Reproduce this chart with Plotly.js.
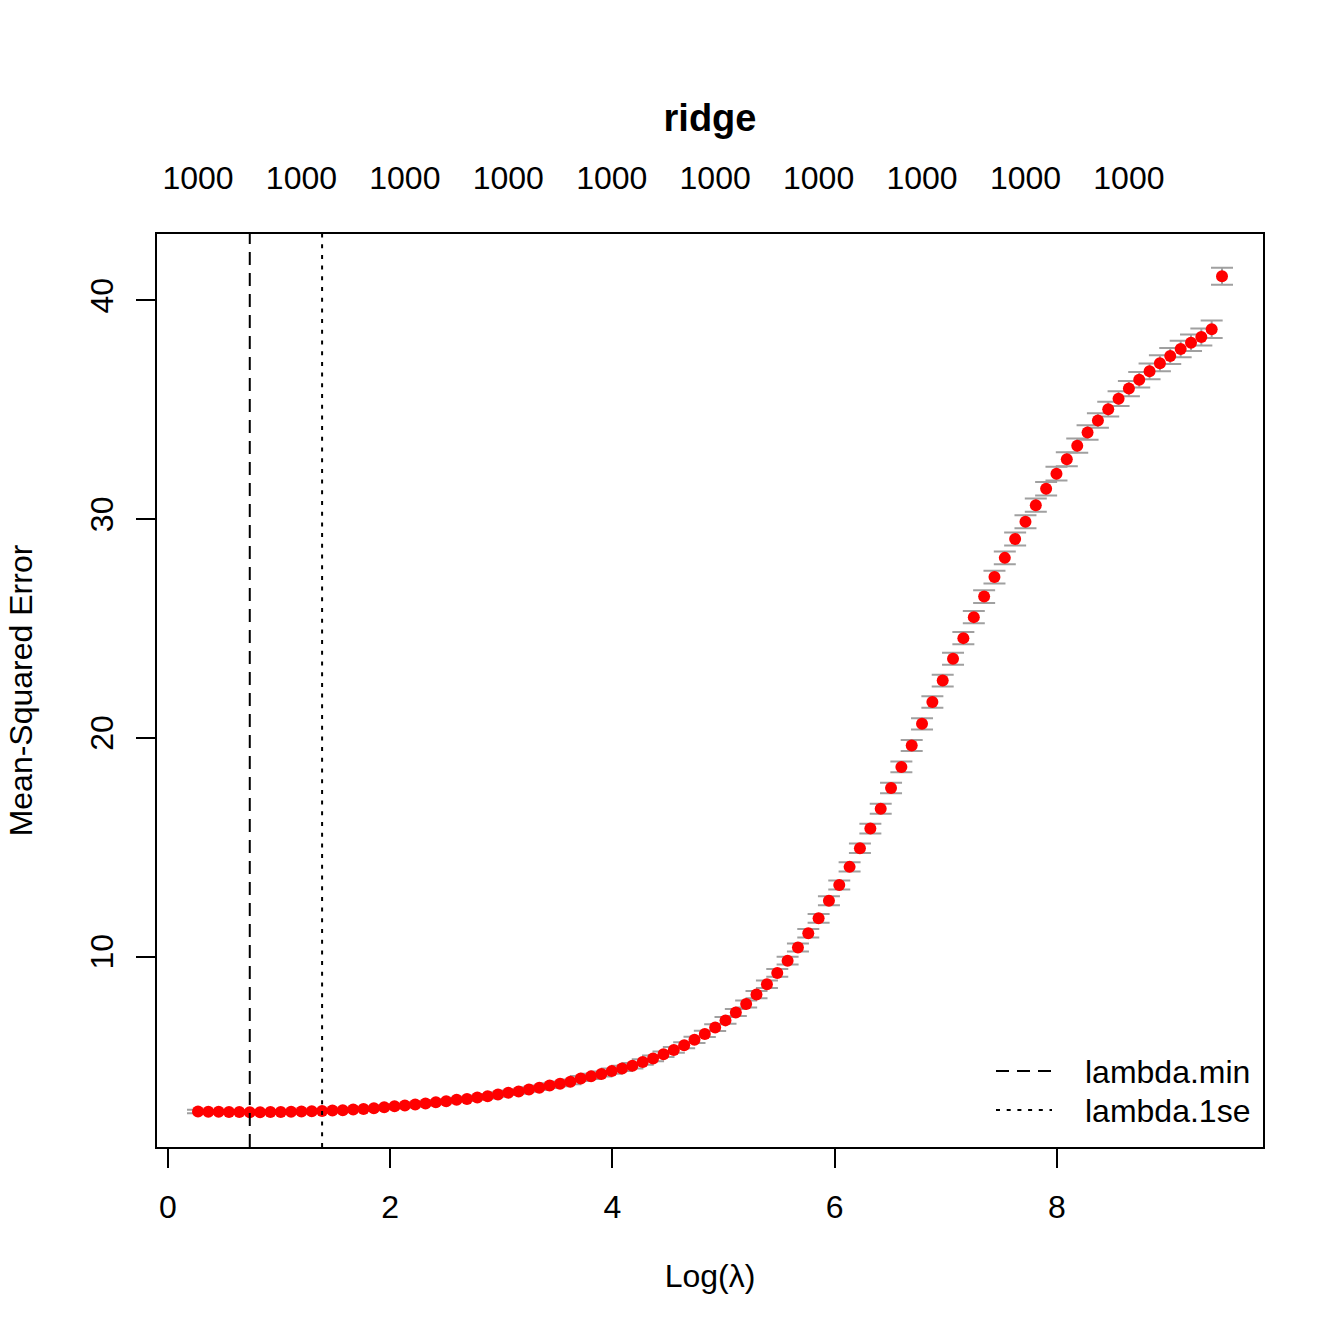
<!DOCTYPE html>
<html>
<head>
<meta charset="utf-8">
<script src="https://cdn.plot.ly/plotly-3.0.1.min.js"></script>
<style>html,body{margin:0;padding:0;background:#fff;}#chart{width:1344px;height:1344px;}</style>
</head>
<body>
<div id="chart"></div>
<script>
// log(lambda) values of the 100 fitted models
var logLambda = [
0.270,0.363,0.456,0.549,0.642,0.736,0.829,0.922,1.015,1.108,
1.201,1.294,1.387,1.480,1.573,1.667,1.760,1.853,1.946,2.039,
2.132,2.225,2.318,2.411,2.504,2.598,2.691,2.784,2.877,2.970,
3.063,3.156,3.249,3.342,3.435,3.529,3.622,3.715,3.808,3.901,
3.994,4.087,4.180,4.273,4.366,4.460,4.553,4.646,4.739,4.832,
4.925,5.018,5.111,5.204,5.297,5.391,5.484,5.577,5.670,5.763,
5.856,5.949,6.042,6.135,6.228,6.322,6.415,6.508,6.601,6.694,
6.787,6.880,6.973,7.066,7.159,7.253,7.346,7.439,7.532,7.625,
7.718,7.811,7.904,7.997,8.090,8.184,8.277,8.370,8.463,8.556,
8.649,8.742,8.835,8.928,9.021,9.115,9.208,9.301,9.394,9.487
];
// cross-validated mean squared error
var cvm = [
2.91,2.90,2.90,2.89,2.89,2.88,2.88,2.89,2.89,2.90,
2.91,2.92,2.94,2.96,2.97,3.00,3.03,3.06,3.11,3.15,
3.19,3.23,3.28,3.34,3.38,3.45,3.49,3.55,3.61,3.69,
3.77,3.83,3.92,4.00,4.10,4.18,4.27,4.42,4.52,4.63,
4.76,4.88,5.01,5.18,5.34,5.53,5.73,5.94,6.19,6.46,
6.75,7.08,7.44,7.83,8.26,8.73,9.25,9.81,10.41,11.06,
11.75,12.55,13.27,14.10,14.95,15.85,16.76,17.71,18.67,19.65,
20.64,21.64,22.62,23.62,24.56,25.52,26.46,27.35,28.23,29.09,
29.88,30.64,31.39,32.08,32.74,33.36,33.96,34.51,35.03,35.51,
35.97,36.38,36.76,37.13,37.46,37.78,38.07,38.33,38.68,41.11
];
// standard error of the CV estimate
var cvsd = [
0.08,0.08,0.08,0.08,0.08,0.08,0.08,0.08,0.08,0.08,
0.08,0.08,0.08,0.08,0.08,0.08,0.085,0.085,0.085,0.09,
0.09,0.09,0.09,0.09,0.095,0.095,0.095,0.10,0.10,0.10,
0.10,0.10,0.105,0.105,0.11,0.11,0.11,0.115,0.115,0.115,
0.12,0.12,0.125,0.125,0.13,0.13,0.135,0.135,0.14,0.145,
0.15,0.15,0.155,0.16,0.165,0.17,0.175,0.18,0.185,0.195,
0.20,0.205,0.21,0.215,0.22,0.225,0.23,0.24,0.245,0.25,
0.26,0.265,0.27,0.275,0.28,0.285,0.29,0.29,0.295,0.30,
0.30,0.305,0.31,0.315,0.32,0.325,0.33,0.335,0.34,0.34,
0.35,0.355,0.36,0.365,0.37,0.375,0.38,0.39,0.40,0.39
];
// number of nonzero coefficients shown on the top axis
var nzeroIdx = [0,10,20,30,40,50,60,70,80,90];
var nzeroLabels = ["1000","1000","1000","1000","1000","1000","1000","1000","1000","1000"];
var lambdaMinIdx = 5;
var lambda1seIdx = 12;
var legendNames = ["lambda.min", "lambda.1se"];
var xRange = [-0.099, 9.856];
var yRange = [1.29, 43.04];

var FONT = "Liberation Sans, Arial, Helvetica, sans-serif";
var W = 1344, H = 1344, ML = 157, MR = 81, MT = 234, MB = 197;
var PW = W - ML - MR, PH = H - MT - MB;
function px(x) { return (x - ML) / PW; }
function py(y) { return (H - MB - y) / PH; }

var DASH = '13px,8px', DOT = '4px,6.7px';

var traces = [
  {
    x: logLambda, y: cvm, type: 'scatter', mode: 'markers',
    marker: {color: '#FF0000', size: 12, line: {width: 0}},
    error_y: {type: 'data', array: cvsd, visible: true, color: '#A0A0A0', thickness: 2, width: 11},
    showlegend: false, hoverinfo: 'x+y'
  },
  {
    x: [logLambda[0]], y: [cvm[0]], xaxis: 'x2', type: 'scatter', mode: 'markers',
    marker: {opacity: 0}, showlegend: false, hoverinfo: 'skip'
  }
];

var shapes = [
  {type: 'line', xref: 'x', yref: 'paper', x0: logLambda[lambdaMinIdx], x1: logLambda[lambdaMinIdx], y0: 0, y1: 1,
   line: {color: '#000', width: 2, dash: DASH}},
  {type: 'line', xref: 'x', yref: 'paper', x0: logLambda[lambda1seIdx], x1: logLambda[lambda1seIdx], y0: 0, y1: 1,
   line: {color: '#000', width: 2, dash: DOT}},
  // legend samples
  {type: 'line', xref: 'paper', yref: 'paper', x0: px(996), x1: px(1052), y0: py(1071), y1: py(1071),
   line: {color: '#000', width: 2, dash: DASH}},
  {type: 'line', xref: 'paper', yref: 'paper', x0: px(996), x1: px(1052), y0: py(1110), y1: py(1110),
   line: {color: '#000', width: 2, dash: DOT}}
];

var annotations = [
  {text: legendNames[0], xref: 'paper', yref: 'paper', x: px(1083), y: py(1072), xanchor: 'left', yanchor: 'middle',
   showarrow: false, font: {family: FONT, size: 32, color: '#000'}},
  {text: legendNames[1], xref: 'paper', yref: 'paper', x: px(1083), y: py(1111), xanchor: 'left', yanchor: 'middle',
   showarrow: false, font: {family: FONT, size: 32, color: '#000'}}
];

var layout = {
  width: W, height: H,
  margin: {l: ML, r: MR, t: MT, b: MB, pad: 0},
  paper_bgcolor: '#fff', plot_bgcolor: '#fff',
  font: {family: FONT, size: 32, color: '#000'},
  title: {text: 'ridge', font: {family: FONT, size: 38, weight: 'bold', color: '#000'},
          x: (ML + W - MR) / 2 / W, xanchor: 'center', xref: 'container',
          y: 1 - 118 / H, yanchor: 'middle', yref: 'container'},
  xaxis: {
    range: xRange, tickmode: 'linear', tick0: 0, dtick: 2,
    showgrid: false, zeroline: false,
    showline: true, linecolor: '#000', linewidth: 2, mirror: true,
    ticks: 'outside', ticklen: 19, tickwidth: 2, tickcolor: '#000',
    ticklabelstandoff: 12,
    tickfont: {family: FONT, size: 32, color: '#000'},
    title: {text: 'Log(λ)', font: {family: FONT, size: 32, color: '#000'}, standoff: 40}
  },
  xaxis2: {
    overlaying: 'x', side: 'top', matches: 'x', range: xRange,
    tickmode: 'array', tickvals: nzeroIdx.map(function (i) { return logLambda[i]; }),
    ticktext: nzeroLabels, ticks: '', showline: false, showgrid: false, zeroline: false,
    ticklabelstandoff: 38,
    tickfont: {family: FONT, size: 32, color: '#000'}
  },
  yaxis: {
    range: yRange, tickmode: 'linear', tick0: 0, dtick: 10,
    showgrid: false, zeroline: false,
    showline: true, linecolor: '#000', linewidth: 2, mirror: true,
    ticks: 'outside', ticklen: 19, tickwidth: 2, tickcolor: '#000',
    tickangle: -90, ticklabelstandoff: 10,
    tickfont: {family: FONT, size: 32, color: '#000'},
    title: {text: 'Mean-Squared Error', font: {family: FONT, size: 32, color: '#000'}, standoff: 42}
  },
  showlegend: false,
  shapes: shapes,
  annotations: annotations
};

Plotly.newPlot('chart', traces, layout, {displayModeBar: false, staticPlot: true});
</script>
</body>
</html>
